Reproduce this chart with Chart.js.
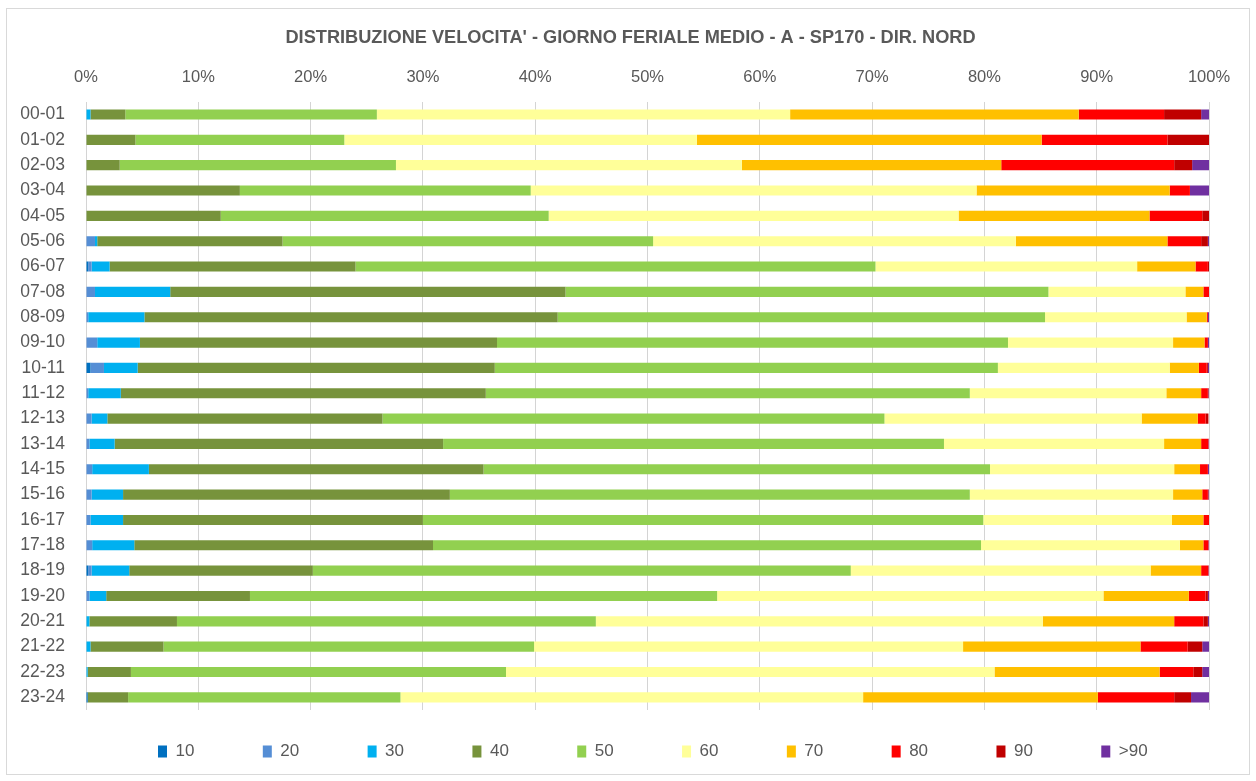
<!DOCTYPE html>
<html>
<head>
<meta charset="utf-8">
<script src="https://cdn.jsdelivr.net/npm/chart.js@4/dist/chart.umd.min.js"></script>
<style>
  html, body { margin: 0; padding: 0; background: #ffffff; }
  #wrap { position: relative; width: 1256px; height: 781px; }
  #frame { position: absolute; left: 6px; top: 8px; width: 1242px; height: 765px; border: 1px solid #d9d9d9; pointer-events: none; }
</style>
</head>
<body>
<div id="wrap">
  <canvas id="c" width="1256" height="781"></canvas>
  <div id="frame"></div>
</div>
<script>
const title = "DISTRIBUZIONE VELOCITA' - GIORNO FERIALE MEDIO - A - SP170 - DIR. NORD";
const categories = ["00-01","01-02","02-03","03-04","04-05","05-06","06-07","07-08","08-09","09-10","10-11","11-12",
                    "12-13","13-14","14-15","15-16","16-17","17-18","18-19","19-20","20-21","21-22","22-23","23-24"];
const seriesLabels = ["10","20","30","40","50","60","70","80","90",">90"];
const seriesColors = ["#0070C0","#558ED5","#00B0F0","#77933C","#92D050","#FFFF99","#FFC000","#FF0000","#C00000","#7030A0"];

// percentage shares per speed class (each row sums to ~100)
const s10  = [0,0,0,0,0,0,0.2,0,0,0,0.4,0, 0,0,0,0,0,0,0.2,0,0,0,0,0.15];
const s20  = [0,0,0,0,0,0.8,0.3,0.8,0.2,1.0,1.2,0.2, 0.5,0.3,0.55,0.5,0.4,0.55,0.3,0.3,0,0,0,0];
const s30  = [0.4,0,0,0,0,0.2,1.6,6.7,5.0,3.8,3.0,2.9, 1.4,2.25,5.05,2.8,2.9,3.75,3.35,1.5,0.3,0.4,0.15,0];
const s40  = [3.1,4.4,3.0,13.7,12.0,16.5,21.9,35.2,36.8,31.8,31.8,32.5, 24.5,29.25,29.8,29.1,26.7,26.6,16.35,12.8,7.8,6.5,3.85,3.6];
const s50  = [22.4,18.6,24.6,25.9,29.2,33.0,46.3,43.0,43.4,45.5,44.8,43.1, 44.7,44.6,45.1,46.3,49.9,48.8,47.9,41.6,37.3,33.0,33.4,24.25];
const s60  = [36.8,31.4,30.8,39.7,36.5,32.3,23.3,12.2,12.6,14.7,15.3,17.5, 22.9,19.6,16.4,18.1,16.8,17.7,26.7,34.4,39.8,38.2,43.5,41.2];
const s70  = [25.7,30.7,23.1,17.2,17.0,13.5,5.2,1.6,1.8,2.8,2.6,3.1, 5.0,3.3,2.3,2.6,2.8,2.1,4.5,7.6,11.7,15.8,14.7,20.9];
const s80  = [7.6,11.2,15.4,1.8,4.7,3.0,1.1,0.5,0.1,0.3,0.7,0.6, 0.7,0.65,0.7,0.5,0.5,0.45,0.65,1.5,2.6,4.2,3.0,6.8];
const s90  = [3.3,3.7,1.6,0,0.6,0.6,0.1,0,0,0,0.1,0.05, 0.25,0,0,0.05,0,0,0,0.2,0.4,1.3,0.8,1.5];
const s90p = [0.7,0,1.5,1.7,0,0.1,0,0,0.1,0.1,0.1,0.05, 0,0.05,0.1,0.05,0,0.05,0.05,0.1,0.1,0.6,0.6,1.6];
const seriesValues = [s10,s20,s30,s40,s50,s60,s70,s80,s90,s90p];

const xTickStep = 10;
const FONT = "'Liberation Sans', Arial, sans-serif";
const GREY = "#595959";

Chart.defaults.font.family = FONT;
Chart.defaults.color = GREY;

// place the legend row and the title like the original
const LEGEND_FIRST_X = 158;
const LEGEND_ROW_TOP = 743;
const TITLE_SHIFT = 16;
const blockPlace = {
  id: 'blockPlace',
  afterLayout(chart) {
    const lg = chart.legend;
    if (lg && lg.lineWidths) {
      const p = lg.options.labels.padding;
      lg.right = chart.width + 200;
      lg.left = 2 * LEGEND_FIRST_X - p - lg.right + lg.lineWidths[0];
      lg.top = LEGEND_ROW_TOP - p;
    }
    const tb = chart.titleBlock;
    if (tb) { tb.left += TITLE_SHIFT; tb.right += TITLE_SHIFT; }
  }
};

new Chart(document.getElementById('c'), {
  type: 'bar',
  data: {
    labels: categories,
    datasets: seriesLabels.map((lab, i) => ({
      label: lab,
      data: seriesValues[i],
      backgroundColor: seriesColors[i],
      borderWidth: 0,
      categoryPercentage: 1.0,
      barPercentage: 0.4
    }))
  },
  options: {
    indexAxis: 'y',
    responsive: false,
    animation: false,
    layout: { padding: { left: 20, right: 47, top: 0, bottom: 0 } },
    plugins: {
      title: {
        display: true,
        text: title,
        color: GREY,
        font: { size: 18.2, weight: 'bold', family: FONT },
        padding: { top: 27, bottom: 0 }
      },
      legend: {
        position: 'bottom',
        maxHeight: 71,
        labels: {
          boxWidth: 9,
          boxHeight: 12,
          padding: 68.4,
          color: GREY,
          font: { size: 17, family: FONT }
        }
      },
      tooltip: { enabled: false }
    },
    scales: {
      x: {
        position: 'top',
        stacked: true,
        min: 0,
        max: 100,
        afterFit(scale) { scale.height = 53; },
        ticks: {
          stepSize: xTickStep,
          padding: 14,
          color: GREY,
          font: { size: 16.5, family: FONT },
          callback: v => v + '%'
        },
        grid: { color: '#d4d4d4', lineWidth: 1, drawTicks: false },
        border: { display: false }
      },
      y: {
        stacked: true,
        afterFit(scale) { scale.width = 66; },
        ticks: {
          padding: 21,
          color: GREY,
          font: { size: 17.5, family: FONT }
        },
        grid: { display: false, drawTicks: false },
        border: { display: false }
      }
    }
  },
  plugins: [blockPlace]
});
</script>
</body>
</html>
